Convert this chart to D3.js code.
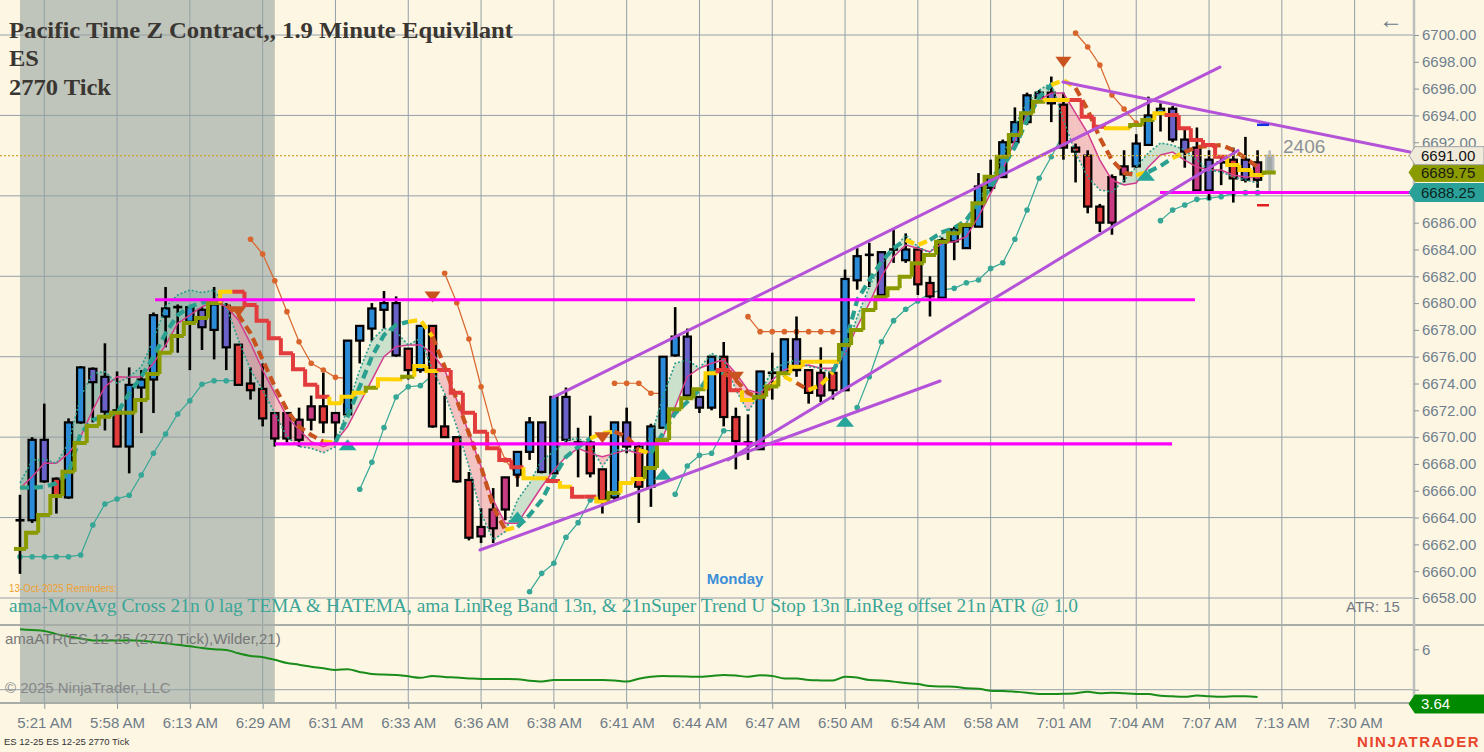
<!DOCTYPE html>
<html><head><meta charset="utf-8">
<script src="https://cdn.jsdelivr.net/npm/d3@7"></script>
<style>body{margin:0;background:#fdf6e3;} svg{display:block}</style>
</head><body><svg id="c" width="1484" height="752"></svg>
<script>
// ---------------- DATA ----------------
const timeLabels = ["5:21 AM","5:58 AM","6:13 AM","6:29 AM","6:31 AM","6:33 AM","6:36 AM","6:38 AM","6:41 AM","6:44 AM","6:47 AM","6:50 AM","6:54 AM","6:58 AM","7:01 AM","7:04 AM","7:07 AM","7:13 AM","7:30 AM"];
const timeLabelBars = [2,8,14,20,26,32,38,44,50,56,62,68,74,80,86,92,98,104,110];
const priceTicks = [6658,6660,6662,6664,6666,6668,6670,6672,6674,6676,6678,6680,6682,6684,6686,6688,6690,6692,6694,6696,6698,6700];
const priceTicksHidden = [6688,6690]; // covered by value flags
const priceGrid = [6658,6664,6670,6676,6682,6688,6694,6700];

const opens = [6663.8,6663.8,6666.7,6666.9,6665.5,6671.1,6674.1,6671.9,6672.0,6669.3,
6673.7,6674.3,6679.0,6679.7,6678.6,6678.2,6678.0,6676.7,6676.9,6674.0,
6673.6,6671.8,6671.8,6671.3,6672.3,6672.3,6671.8,6671.7,6677.2,6678.1,
6679.5,6676.1,6676.6,6675.0,6678.3,6670.8,6670.0,6666.8,6663.3,6664.6,
6667.0,6667.2,6668.9,6667.4,6667.3,6669.8,6669.6,6669.6,6667.6,6665.5,
6669.3,6669.3,6666.3,6670.7,6676.1,6673.1,6672.2,6672.2,6676.0,6671.5,
6669.6,6669.1,6674.8,6674.8,6675.0,6675.0,6674.8,6674.8,6673.5,6681.7,
6683.6,6680.6,6684.0,6683.2,6684.0,6681.5,6680.4,6684.6,6684.1,6685.7,
6688.6,6689.4,6692.0,6693.5,6695.3,6694.9,6694.8,6691.6,6691.0,6687.2,
6689.4,6690.2,6690.2,6691.8,6694.2,6692.2,6691.3,6691.6,6688.4,6690.5,
6690.7,6689.2,6690.5,6689.7];
const highs = [6665.7,6670.0,6672.5,6667.0,6671.4,6675.3,6675.2,6677.0,6674.9,6675.2,
6675.0,6679.3,6681.2,6679.9,6679.7,6679.7,6681.2,6680.0,6676.9,6675.2,
6675.5,6671.8,6671.8,6672.2,6673.1,6674.8,6671.8,6677.2,6678.3,6680.0,
6680.9,6680.5,6676.6,6678.3,6678.3,6673.1,6670.0,6667.4,6664.7,6666.2,
6667.0,6668.9,6671.5,6671.1,6673.0,6673.7,6670.7,6671.6,6667.6,6671.1,
6672.2,6669.6,6671.0,6676.0,6679.7,6678.1,6673.0,6676.0,6677.1,6672.2,
6671.7,6674.9,6676.3,6677.3,6679.0,6675.0,6676.7,6675.2,6682.5,6684.1,
6684.5,6683.8,6685.5,6685.2,6684.2,6682.0,6684.9,6685.7,6686.0,6689.7,
6690.7,6692.2,6694.6,6695.7,6695.9,6696.9,6695.7,6691.9,6691.4,6687.4,
6689.6,6691.4,6692.6,6695.4,6694.9,6694.7,6693.1,6693.1,6691.4,6690.9,
6691.6,6692.4,6691.4,6691.4];
const lows = [6659.8,6663.6,6666.6,6664.3,6665.4,6671.0,6671.1,6670.5,6669.3,6667.3,
6670.3,6671.8,6676.7,6676.3,6675.0,6676.5,6675.8,6675.0,6673.9,6672.8,
6670.8,6669.3,6669.6,6669.3,6670.5,6670.3,6669.8,6671.7,6675.5,6677.2,
6678.1,6676.0,6674.3,6674.8,6670.7,6670.0,6666.6,6662.3,6662.1,6662.1,
6663.8,6666.3,6668.3,6667.3,6667.2,6669.6,6667.0,6667.0,6664.3,6665.3,
6668.8,6663.6,6664.8,6670.7,6676.0,6673.0,6671.8,6672.0,6670.8,6667.6,
6668.3,6669.1,6672.8,6674.5,6674.5,6672.5,6672.6,6672.8,6673.5,6681.0,
6681.2,6680.6,6683.0,6683.0,6680.6,6679.0,6680.4,6683.2,6684.1,6685.7,
6688.3,6689.4,6691.8,6693.3,6695.0,6693.5,6690.7,6689.0,6686.7,6685.3,
6685.1,6689.0,6690.1,6691.8,6692.8,6692.0,6690.1,6688.3,6687.7,6688.8,
6687.5,6689.0,6688.6,6688.3];
const closes = [6663.8,6669.8,6669.8,6665.6,6671.1,6675.2,6675.1,6674.5,6669.3,6673.9,
6674.3,6679.1,6679.6,6679.8,6679.7,6679.5,6679.9,6679.8,6673.9,6673.5,
6671.4,6669.9,6669.9,6669.8,6671.3,6671.1,6671.1,6677.2,6678.3,6679.6,
6680.0,6680.0,6675.0,6678.3,6670.8,6670.0,6666.7,6662.5,6662.6,6663.2,
6664.6,6668.9,6671.1,6671.1,6673.0,6673.0,6669.6,6667.3,6665.3,6671.1,
6671.1,6666.3,6670.8,6676.0,6677.5,6677.5,6673.0,6676.0,6671.5,6669.7,
6669.6,6674.9,6674.8,6677.3,6677.3,6673.3,6673.1,6673.5,6681.8,6683.5,
6683.6,6683.8,6684.0,6684.0,6681.4,6680.5,6684.7,6685.5,6685.7,6688.7,
6689.4,6692.0,6693.5,6695.5,6695.7,6695.7,6691.6,6691.3,6687.2,6686.0,
6686.0,6689.6,6691.9,6694.0,6694.5,6694.5,6692.2,6688.4,6690.7,6690.5,
6689.3,6690.7,6689.2,6691.0];
// bar colour class: b blue, p purple, r red, m magenta, k doji, g forming bar
const barColors = ["k","b","p","r","b","b","p","p","r","b","b","b","b","k","b","p","b","p","r","r",
"r","m","m","m","m","r","m","b","b","b","b","p","r","b","r","r","r","r","m","m",
"m","b","b","p","b","p","k","r","r","b","p","r","b","b","b","p","p","b","r","r",
"k","b","k","b","p","r","m","r","b","b","k","p","k","b","r","r","b","b","b","b",
"b","b","b","b","p","p","r","r","r","r","m","m","b","b","b","p","p","m","p","k",
"r","p","m","g"];

// fast (dotted teal) and slow (magenta) averages
const fastMA = [6666.58,6668.30,6668.35,6668.05,6669.54,6673.02,6674.76,6674.88,6674.02,6674.51,
6675.26,6677.25,6679.73,6680.60,6680.98,6680.78,6680.98,6679.73,6677.25,6675.01,
6673.52,6671.78,6670.03,6669.29,6669.17,6668.84,6669.29,6672.27,6675.01,6677.25,
6678.12,6677.87,6676.87,6677.37,6675.01,6673.27,6670.78,6667.80,6664.32,6662.33,
6662.95,6665.31,6666.56,6668.30,6668.91,6669.79,6669.91,6669.41,6667.80,6669.04,
6669.04,6669.04,6670.03,6673.02,6675.51,6675.76,6675.14,6676.26,6675.76,6673.52,
6671.90,6673.27,6675.01,6675.51,6675.76,6675.26,6675.14,6674.76,6676.26,6678.99,
6681.22,6682.97,6683.96,6685.08,6684.21,6683.72,6685.21,6685.45,6685.98,6687.69,
6689.18,6690.90,6693.29,6694.93,6695.90,6696.42,6693.66,6691.20,6689.41,6688.44,
6688.29,6689.18,6690.15,6691.20,6691.94,6691.79,6691.42,6690.67,6689.93,6689.78,
6689.41,6689.18,6688.96];
const slowMA = [6666.18,6667.05,6668.05,6668.05,6668.79,6670.03,6672.03,6673.76,6674.51,6674.46,
6674.51,6675.51,6676.87,6678.49,6679.11,6679.73,6680.10,6679.73,6678.74,6677.00,
6675.01,6673.27,6671.53,6670.53,6669.66,6669.29,6669.66,6670.78,6672.53,6674.26,
6676.00,6676.75,6676.87,6676.87,6676.26,6675.01,6672.77,6670.29,6667.80,6665.31,
6663.57,6663.57,6664.94,6666.30,6667.55,6668.54,6669.17,6668.79,6668.54,6668.79,
6669.04,6668.79,6668.91,6670.03,6672.27,6674.51,6675.14,6675.51,6675.76,6674.76,
6673.52,6673.27,6674.26,6675.01,6675.26,6675.38,6675.14,6675.14,6676.26,6678.24,
6679.99,6681.97,6683.46,6684.33,6684.09,6683.83,6684.46,6684.58,6684.95,6686.45,
6688.19,6689.93,6692.17,6694.03,6695.15,6695.67,6695.67,6694.18,6692.69,6690.67,
6689.18,6688.81,6688.96,6690.15,6691.05,6691.27,6690.67,6690.15,6689.93,6689.93,
6689.56,6689.41,6689.41];
// thick dashed TEMA and its colour (t rising, o falling, y neutral)
const temaVals = [6666.23,6666.23,6666.30,6666.56,6667.30,6670.29,6671.28,6671.58,6671.78,6673.27,
6674.51,6676.00,6677.75,6679.11,6679.73,6680.03,6680.18,6679.86,6679.11,6677.75,
6675.76,6673.76,6672.03,6670.78,6670.16,6669.66,6669.59,6671.53,6673.76,6676.00,
6677.62,6678.37,6678.61,6678.74,6677.49,6675.26,6672.77,6670.29,6667.80,6664.81,
6663.07,6663.30,6664.19,6665.31,6667.03,6668.52,6669.27,6669.91,6670.29,6670.41,
6670.03,6669.04,6668.79,6670.29,6671.78,6672.64,6673.52,6674.88,6674.79,6674.26,
6673.29,6672.92,6673.89,6674.51,6674.04,6673.52,6673.89,6674.86,6676.87,6680.23,
6681.72,6683.07,6684.11,6684.71,6684.33,6684.71,6685.30,6685.60,6686.20,6687.47,
6688.59,6690.15,6691.64,6693.66,6695.37,6696.27,6696.64,6696.05,6694.41,6692.32,
6690.67,6689.71,6689.56,6689.78,6690.23,6690.82,6691.27,6691.64,6691.72,6691.79,
6691.42,6690.82,6690.15];
const temaColors = "yttttttttttttttttoooooooooyttttttyyooooooyttttttyyooyttttttooooyyoyyttttttyyttttttttttyyoooooyttyooooooo".split("");
// super trend stop (o up, r down, y neutral)
const stopVals = [6661.66,6662.87,6664.19,6665.61,6667.42,6669.56,6670.83,6671.53,6671.82,6671.82,
6672.77,6674.71,6676.30,6677.55,6678.52,6678.89,6680.01,6680.85,6680.85,6679.86,
6678.69,6677.37,6676.25,6675.06,6673.90,6673.02,6672.52,6673.02,6673.32,6673.69,
6674.31,6674.31,6674.51,6675.31,6674.93,6675.01,6673.32,6671.82,6670.41,6669.17,
6668.30,6667.75,6666.93,6666.93,6666.73,6666.30,6665.56,6665.56,6665.19,6665.83,
6666.58,6666.88,6667.70,6669.79,6672.08,6672.90,6673.57,6674.76,6675.00,6673.50,
6672.77,6673.02,6673.77,6674.76,6675.26,6675.63,6675.63,6675.63,6676.87,6677.99,
6679.49,6680.43,6681.10,6681.97,6682.97,6683.59,6684.58,6685.21,6685.83,6687.44,
6689.43,6690.92,6692.54,6694.16,6695.02,6695.15,6695.15,6695.15,6693.91,6693.16,
6693.04,6693.04,6693.29,6693.66,6694.16,6694.03,6693.04,6692.17,6691.79,6690.92,
6690.30,6689.93,6689.56,6689.75];
const stopColors = "oooooooooooooooooyrrrrrrrryyyoyyoyyrrrrrrryyryrryoyyoooooyrryoooyyyyoooooooooooooooooyyrrryyooyrrrrryyyo".split("");
// LinReg band stops with dots
const N = null;
const lowerBandDots = [6661.08,6661.08,6661.08,6661.08,6661.08,6661.21,6663.45,6665.01,6665.39,6665.66,
6667.18,6668.80,6670.24,6671.73,6672.72,6673.94,6674.21,6674.21,6674.21,N,
N,N,N,N,N,N,N,N,6666.11,6668.12,
6670.71,6673.00,6673.76,6673.84,6674.64,N,N,N,N,N,
N,N,6658.47,6659.84,6660.59,6662.53,6663.62,6665.31,6665.51,N,
N,N,N,N,6665.74,6667.85,6668.65,6668.80,6670.48,6670.48,
N,N,N,N,N,N,N,N,N,6672.20,
6674.51,6677.12,6678.69,6679.54,6680.16,6680.73,6680.98,6681.10,6681.52,6681.72,
6682.59,6683.01,6684.76,6686.95,6689.31,6690.92,6692.67,N,N,N,
N,N,N,N,6686.15,6686.95,6687.32,6687.74,6687.82,6687.94,
6688.19,6688.24,6688.24,N];
const upperBandDots = [N,N,N,N,N,N,N,N,N,N,
N,N,N,N,N,N,N,N,N,6684.76,
6683.66,6681.67,6679.36,6677.12,6675.51,6675.01,6674.46,6674.39,N,N,
N,N,N,N,N,6682.22,6680.03,6677.32,6673.76,6670.41,
6668.30,6667.10,N,N,N,N,N,N,N,6674.02,
6674.02,6674.02,6673.27,6673.27,N,N,N,N,N,N,
6678.99,6677.87,6677.87,6677.87,6677.87,6677.87,6677.87,6677.87,6677.87,N,
N,N,N,N,N,N,N,N,N,N,
N,N,N,N,N,N,N,6700.15,6699.11,6697.76,
6695.52,6694.48,6693.43,6693.16,N,N,N,N,N,N,
N,N,N,N];
// signal triangles [bar, price]
const downSignals = [[18,6679.4],[34,6680.5],[48,6670.0],[59,6674.5],[86,6698.0]];
const upSignals = [[27,6669.4],[41,6664.0],[53,6667.2],[68,6671.15],[92.8,6689.5]];
// drawn objects
const hLineStart = [11.13, 21.02, 93.96];
const hLineEnd = [96.84, 94.95, 114.56];
const hLinePrice = [6680.25, 6669.5, 6688.25];
const trendStartBar = [37.91, 43.93, 58.35, 85.96];
const trendStartPrice = [6661.58, 6672.97, 6668.30, 6696.49];
const trendEndBar = [75.83, 98.9, 100.39, 114.56];
const trendEndPrice = [6674.19, 6697.61, 6691.39, 6691.27];
// ATR (Wilder, 21)
const atrVals = [6.99,6.95,6.91,6.75,6.63,6.53,6.44,6.43,6.43,6.45,
6.42,6.36,6.30,6.22,6.15,6.06,6.00,5.97,5.80,5.67,
5.61,5.48,5.32,5.24,5.14,5.06,4.98,5.01,4.88,4.78,
4.75,4.73,4.66,4.59,4.68,4.63,4.60,4.56,4.53,4.53,
4.53,4.52,4.44,4.40,4.48,4.48,4.48,4.48,4.48,4.46,
4.40,4.54,4.64,4.68,4.66,4.65,4.64,4.68,4.73,4.70,
4.64,4.71,4.68,4.56,4.56,4.48,4.46,4.45,4.64,4.60,
4.48,4.46,4.40,4.33,4.28,4.18,4.16,4.15,4.07,4.05,
3.95,3.93,3.90,3.85,3.79,3.79,3.80,3.83,3.90,3.83,
3.85,3.82,3.79,3.79,3.70,3.67,3.65,3.71,3.68,3.65,
3.67,3.68,3.64];
const atrTicks = [4,6];
const atrTicksHidden = [4]; // covered by value flag
const lastPrice = 6691.00, stopLast = 6689.75, bandLast = 6688.25, atrLast = 3.64;

// ---------------- CHART ----------------
const svg = d3.select("#c");
const SANS = "'Liberation Sans', Arial, sans-serif";
const SERIF = "'Liberation Serif', 'Times New Roman', serif";
const AX = 1414, MAINB = 625, BOT = 703;
const x = d3.scaleLinear().domain([0,110]).range([20, 20 + 110*12.133]);
const y = d3.scaleLinear().domain([6658,6700]).range([598,35]);
const ya = d3.scaleLinear().domain([4,6]).range([689.7,649.3]);
const GRID = "#93a0a8";

svg.append("rect").attr("width",1484).attr("height",752).attr("fill","#fdf6e3");
// session shading
svg.append("rect").attr("x",x(0)).attr("y",0).attr("width",x(21)-x(0)).attr("height",BOT).attr("fill","#bfc5ba");

// grid
const grid = svg.append("g");
grid.selectAll("line.h").data(priceGrid).join("line")
  .attr("x1",0).attr("x2",AX).attr("y1",d=>y(d)).attr("y2",d=>y(d))
  .attr("stroke",GRID).attr("stroke-width",1);
grid.selectAll("line.v").data(timeLabelBars).join("line").attr("class","v")
  .attr("x1",d=>x(d)).attr("x2",d=>x(d)).attr("y1",0).attr("y2",BOT)
  .attr("stroke",GRID).attr("stroke-width",1);
grid.append("line").attr("x1",0).attr("x2",AX).attr("y1",ya(4)).attr("y2",ya(4)).attr("stroke",GRID);

// clip
svg.append("clipPath").attr("id","mainclip").append("rect").attr("x",0).attr("y",0).attr("width",AX).attr("height",MAINB);
const main = svg.append("g").attr("clip-path","url(#mainclip)");

// fills between fast and slow
const fillG = main.append("g");
for (let i=0;i<fastMA.length-1;i++){
  const f0=fastMA[i], f1=fastMA[i+1], s0=slowMA[i], s1=slowMA[i+1];
  const d0=f0-s0, d1=f1-s1;
  const col = v => v>=0 ? "rgba(60,165,140,0.26)" : "rgba(230,110,140,0.38)";
  if (d0*d1 >= 0){
    fillG.append("path").attr("d", d3.line()([[x(i),y(f0)],[x(i+1),y(f1)],[x(i+1),y(s1)],[x(i),y(s0)]])+"Z")
      .attr("fill", col(d0+d1));
  } else {
    const t = d0/(d0-d1), xm = i+t, pm = f0+t*(f1-f0);
    fillG.append("path").attr("d", d3.line()([[x(i),y(f0)],[x(xm),y(pm)],[x(i),y(s0)]])+"Z").attr("fill",col(d0));
    fillG.append("path").attr("d", d3.line()([[x(xm),y(pm)],[x(i+1),y(f1)],[x(i+1),y(s1)]])+"Z").attr("fill",col(d1));
  }
}

// band dot lines
function dotLine(vals, color){
  const g = main.append("g");
  const pts = vals.map((v,i)=>[i,v]);
  g.append("path").attr("d", d3.line().defined(d=>d[1]!==null).x(d=>x(d[0])).y(d=>y(d[1]))(pts))
    .attr("fill","none").attr("stroke",color).attr("stroke-width",1.2);
  g.selectAll("circle").data(pts.filter(d=>d[1]!==null)).join("circle")
    .attr("cx",d=>x(d[0])).attr("cy",d=>y(d[1])).attr("r",2.8).attr("fill",color);
}
dotLine(lowerBandDots, "#36a697");
dotLine(upperBandDots, "#d9652c");

// candles
const bodyFill = {b:"#2b8bd8", p:"#6a62c8", r:"#e23b3b", m:"#c83a82", k:"#111", g:"#a3a8a8"};
const cg = main.append("g");
opens.forEach((o,i)=>{
  const c = barColors[i], cx = x(i);
  const edge = c==="g" ? "#b8bcbc" : "#000";
  cg.append("line").attr("x1",cx).attr("x2",cx).attr("y1",y(highs[i])).attr("y2",y(lows[i]))
    .attr("stroke",edge).attr("stroke-width",2.6);
  const top = Math.max(o,closes[i]), bot = Math.min(o,closes[i]);
  if (c==="k"){
    cg.append("line").attr("x1",cx-4.5).attr("x2",cx+4.5).attr("y1",y(o)).attr("y2",y(o))
      .attr("stroke","#000").attr("stroke-width",2.6);
  } else {
    cg.append("rect").attr("x",cx-3.6).attr("y",y(top)).attr("width",7.2)
      .attr("height",Math.max(2,y(bot)-y(top))).attr("fill",bodyFill[c])
      .attr("stroke",edge).attr("stroke-width",2.2);
  }
});

// MA lines
main.append("path").attr("d", d3.line().x((d,i)=>x(i)).y(d=>y(d))(slowMA))
  .attr("fill","none").attr("stroke","#d43c8e").attr("stroke-width",1.5);
main.append("path").attr("d", d3.line().x((d,i)=>x(i)).y(d=>y(d))(fastMA))
  .attr("fill","none").attr("stroke","#2a9d8f").attr("stroke-width",1.6).attr("stroke-dasharray","2,2");

// dashed TEMA with colour runs
const temaCol = {t:"#2aa090", o:"#c9531f", y:"#ffd200"};
let runStart = 0;
for (let i=1;i<=temaVals.length;i++){
  if (i===temaVals.length || temaColors[i]!==temaColors[runStart]){
    const a = Math.max(0, runStart-1), b = i-1;
    const pts = d3.range(a, b+1).map(k=>[x(k), y(temaVals[k])]);
    if (pts.length===1) pts.push([x(b)+6, y(temaVals[b])]);
    main.append("path").attr("d", d3.line()(pts)).attr("fill","none")
      .attr("stroke", temaCol[temaColors[runStart]]).attr("stroke-width",4.2).attr("stroke-dasharray","9,5");
    runStart = i;
  }
}

// super trend stop steps
const stopCol = {o:"#8a9b00", r:"#e23c3c", y:"#ffd200"};
stopVals.forEach((v,i)=>{
  const prev = i>0 ? stopVals[i-1] : v;
  const p = d3.path();
  p.moveTo(x(i-0.5), y(prev)); p.lineTo(x(i-0.5), y(v)); p.lineTo(x(i+0.5), y(v));
  main.append("path").attr("d", p.toString()).attr("fill","none")
    .attr("stroke", stopCol[stopColors[i]]).attr("stroke-width",4).attr("stroke-linejoin","miter");
});

// signal triangles
main.selectAll("path.dn").data(downSignals).join("path")
  .attr("d", d=>{const cx=x(d[0]), cy=y(d[1]); return `M${cx-8},${cy-5}L${cx+8},${cy-5}L${cx},${cy+6}Z`;})
  .attr("fill","#c9531f");
main.selectAll("path.up").data(upSignals).join("path")
  .attr("d", d=>{const cx=x(d[0]), cy=y(d[1]); return `M${cx-9},${cy+5}L${cx+9},${cy+5}L${cx},${cy-6}Z`;})
  .attr("fill","#26a69a");

// drawings
hLinePrice.forEach((p,i)=>{
  main.append("line").attr("x1",x(hLineStart[i])).attr("x2",x(hLineEnd[i]))
    .attr("y1",y(p)).attr("y2",y(p)).attr("stroke","#ff00ff").attr("stroke-width",3.2);
});
trendStartBar.forEach((b,i)=>{
  main.append("line").attr("x1",x(b)).attr("y1",y(trendStartPrice[i]))
    .attr("x2",x(trendEndBar[i])).attr("y2",y(trendEndPrice[i]))
    .attr("stroke","#b453d8").attr("stroke-width",3).attr("stroke-linecap","round");
});
// next bar range marks
main.append("line").attr("x1",x(102.45)-6).attr("x2",x(102.45)+6).attr("y1",y(6693.3)).attr("y2",y(6693.3)).attr("stroke","#1530e0").attr("stroke-width",2.5);
main.append("line").attr("x1",x(102.45)-6).attr("x2",x(102.45)+6).attr("y1",y(6687.3)).attr("y2",y(6687.3)).attr("stroke","#e02020").attr("stroke-width",2.5);

// last price dotted line
svg.append("line").attr("x1",0).attr("x2",AX).attr("y1",y(lastPrice)).attr("y2",y(lastPrice))
  .attr("stroke","#d1a232").attr("stroke-width",1.3).attr("stroke-dasharray","2,2");

// ATR line
svg.append("path").attr("d", d3.line().x((d,i)=>x(i)).y(d=>ya(d)).curve(d3.curveMonotoneX)(atrVals))
  .attr("fill","none").attr("stroke","#1a8c1a").attr("stroke-width",2);

// axes frame
svg.append("line").attr("x1",0).attr("x2",1484).attr("y1",MAINB).attr("y2",MAINB).attr("stroke","#a9ada8").attr("stroke-width",2);
svg.append("line").attr("x1",0).attr("x2",AX).attr("y1",BOT).attr("y2",BOT).attr("stroke","#a9ada8").attr("stroke-width",2);
svg.append("line").attr("x1",AX).attr("x2",AX).attr("y1",0).attr("y2",BOT).attr("stroke","#bcc0ba").attr("stroke-width",2.5);

// price axis
const pAxis = svg.append("g").attr("transform",`translate(${AX},0)`)
  .call(d3.axisRight(y).tickValues(priceTicks)
    .tickFormat(d=>priceTicksHidden.includes(d) ? "" : d3.format(".2f")(d)).tickSize(5).tickPadding(3));
pAxis.select(".domain").remove();
pAxis.selectAll("line").attr("stroke","#8a96a0");
pAxis.selectAll("text").attr("fill","#6f7f8e").style("font-family",SANS).style("font-size","15px");
// ATR axis
const aAxis = svg.append("g").attr("transform",`translate(${AX},0)`)
  .call(d3.axisRight(ya).tickValues(atrTicks)
    .tickFormat(d=>atrTicksHidden.includes(d) ? "" : d3.format("d")(d)).tickSize(5).tickPadding(3));
aAxis.select(".domain").remove();
aAxis.selectAll("line").attr("stroke","#8a96a0");
aAxis.selectAll("text").attr("fill","#6f7f8e").style("font-family",SANS).style("font-size","15px");
// time axis
const tAxis = svg.append("g").attr("transform",`translate(0,${BOT})`)
  .call(d3.axisBottom(x).tickValues(timeLabelBars).tickFormat((d,i)=>timeLabels[i]).tickSize(6).tickPadding(8));
tAxis.select(".domain").remove();
tAxis.selectAll("line").attr("stroke","#8a96a0");
tAxis.selectAll("text").attr("fill","#6f7b86").style("font-family",SANS).style("font-size","15px");

// right value flags
function flag(yc, txt, fill, stroke, tcol){
  const g = svg.append("g");
  g.append("path").attr("d",`M${AX-5},${yc}L${AX+1},${yc-9}L1484,${yc-9}L1484,${yc+9}L${AX+1},${yc+9}Z`)
    .attr("fill",fill).attr("stroke",stroke).attr("stroke-width",1);
  g.append("text").attr("x",1421).attr("y",yc).attr("dy","0.35em").text(txt)
    .attr("fill",tcol).style("font-family",SANS).style("font-size","15px");
}
flag(y(bandLast), d3.format(".2f")(bandLast), "#2aa198", "#2aa198", "#0b2422");
flag(y(stopLast), d3.format(".2f")(stopLast), "#8a9b00", "#8a9b00", "#1a1a10");
flag(y(lastPrice), d3.format(".2f")(lastPrice), "#f0eadb", "#a0a6a6", "#111");
flag(ya(atrLast)+7, d3.format(".2f")(atrLast), "#008a00", "#008a00", "#ffffff");

// texts
const T = (t,xx,yy,size,fill,opts={})=>{
  const e = svg.append("text").attr("x",xx).attr("y",yy).text(t).attr("fill",fill)
    .style("font-family",opts.font||SANS).style("font-size",size+"px");
  if (opts.weight) e.style("font-weight",opts.weight);
  if (opts.anchor) e.attr("text-anchor",opts.anchor);
  if (opts.len) e.attr("textLength",opts.len).attr("lengthAdjust","spacingAndGlyphs");
  if (opts.ls) e.style("letter-spacing",opts.ls);
  if (opts.dy) e.attr("dy",opts.dy);
  return e;
};
T("Pacific Time Z Contract,, 1.9 Minute Equivilant", 9, 38, 23, "#3a3632", {font:SERIF, weight:"bold", len:504});
T("ES", 9, 66, 23, "#3a3632", {font:SERIF, weight:"bold", len:30});
T("2770 Tick", 9, 95, 23, "#3a3632", {font:SERIF, weight:"bold", len:102});
T("13-Oct-2025 Reminders:", 9, 588, 10.5, "#f0a030", {dy:"0.35em", len:108});
T("ama-MovAvg Cross 21n 0 lag TEMA & HATEMA, ama LinReg Band 13n, & 21nSuper Trend U Stop 13n LinReg offset 21n ATR @ 1.0", 9, 612, 18.5, "#3aa597", {font:SERIF, len:1069});
T("Monday", 735, 579, 15, "#3d8ed8", {weight:"bold", anchor:"middle", dy:"0.35em"});
T("ATR: 15", 1346, 607, 15, "#727b84", {dy:"0.35em"});
T("2406", 1283, 146, 19, "#8a9197", {dy:"0.35em"});
T("amaATR(ES 12-25 (2770 Tick),Wilder,21)", 5, 639, 15, "#777777", {dy:"0.35em"});
T("© 2025 NinjaTrader, LLC", 5, 688, 15, "#888888", {dy:"0.35em"});
T("ES 12-25 ES 12-25 2770 Tick", 4, 742, 9.5, "#333333", {dy:"0.35em"});
T("NINJATRADER", 1480, 742, 15, "#e8452c", {weight:"bold", anchor:"end", dy:"0.35em", ls:"1.5px"});
T("←", 1391, 20, 24, "#6a7a8a", {anchor:"middle", dy:"0.35em"});
</script></body></html>
